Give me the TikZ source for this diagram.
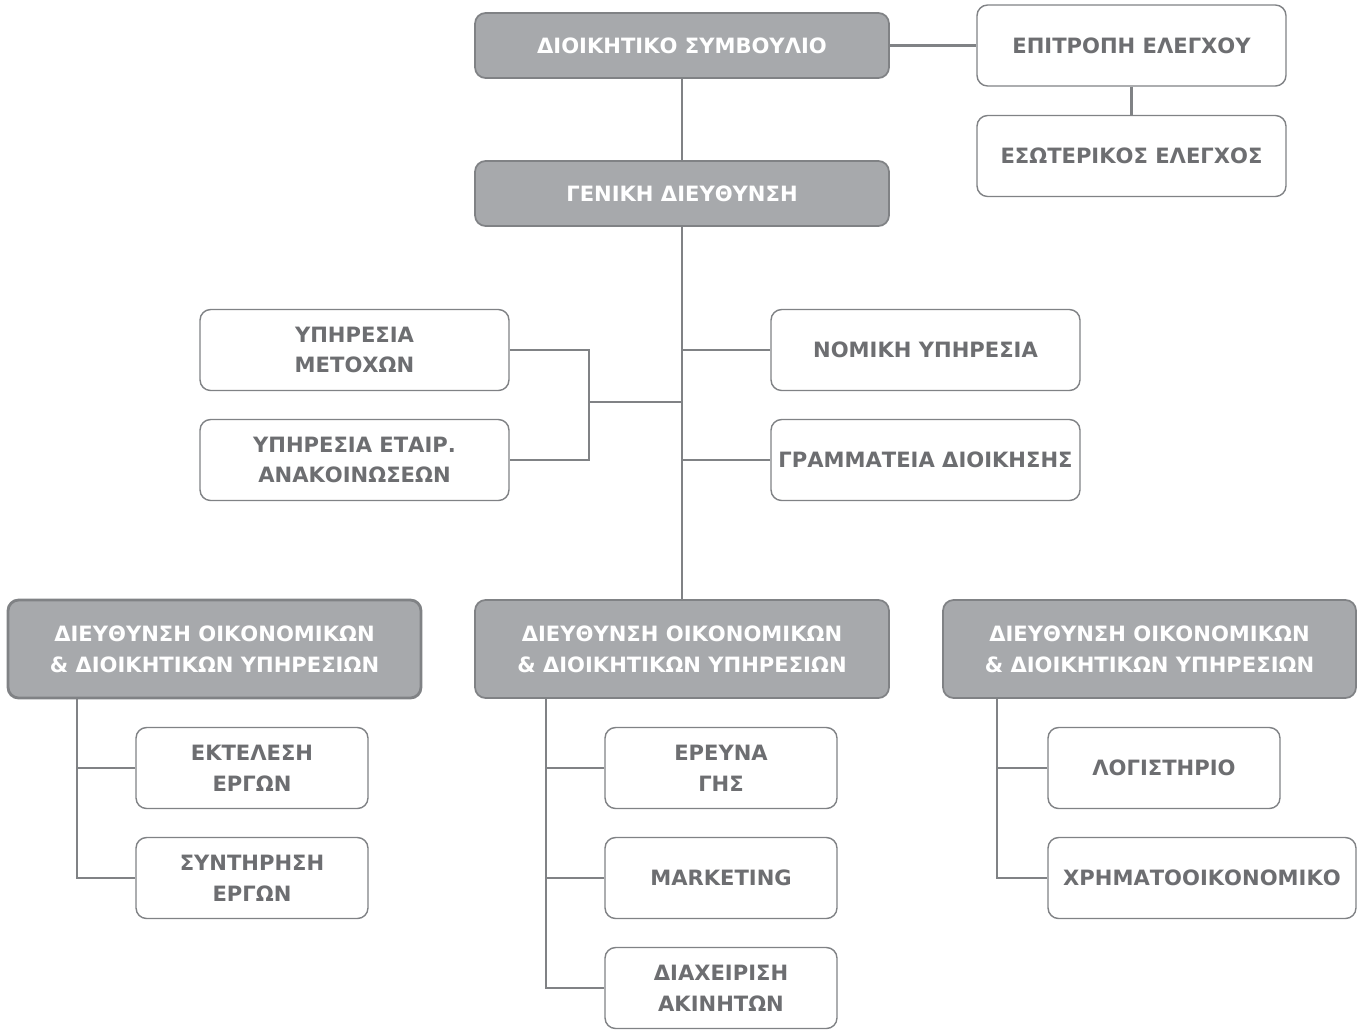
\documentclass[tikz,border=0pt]{standalone}
\usepackage{fontspec}
\setmainfont{DejaVu Sans}
\definecolor{boxgray}{HTML}{A7A9AC}
\definecolor{textgray}{HTML}{6D6E71}
\definecolor{linegray}{HTML}{808285}
\tikzset{
  headbox/.style={draw=linegray, line width=1pt, fill=boxgray, rounded corners=6pt,
    text=white, font=\bfseries\fontsize{12}{17.5}\selectfont, align=center, inner sep=0pt},
  unitbox/.style={draw=linegray, line width=0.8pt, fill=white, rounded corners=6pt,
    text=textgray, font=\bfseries\fontsize{12}{17.5}\selectfont, align=center, inner sep=0pt},
  link/.style={draw=linegray, line width=1.4pt}
}
\begin{document}
\begin{tikzpicture}[x=0.02cm, y=-0.02cm]
 \useasboundingbox (0,0) rectangle (1363,1029);
%
 \node[headbox, minimum width=8.28cm, minimum height=1.3cm] (board) at (682,45.5) {ΔΙΟΙΚΗΤΙΚΟ ΣΥΜΒΟΥΛΙΟ};
 \node[headbox, minimum width=8.28cm, minimum height=1.3cm] (gm) at (682,193.5) {ΓΕΝΙΚΗ ΔΙΕΥΘΥΝΣΗ};
 \node[unitbox, minimum width=6.18cm, minimum height=1.62cm] (audit) at (1131.5,45.5) {ΕΠΙΤΡΟΠΗ ΕΛΕΓΧΟΥ};
 \node[unitbox, minimum width=6.18cm, minimum height=1.62cm] (internal) at (1131.5,156) {ΕΣΩΤΕΡΙΚΟΣ ΕΛΕΓΧΟΣ};
%
 \node[unitbox, minimum width=6.18cm, minimum height=1.62cm] (shares) at (354.5,350) {ΥΠΗΡΕΣΙΑ\\ΜΕΤΟΧΩΝ};
 \node[unitbox, minimum width=6.18cm, minimum height=1.62cm] (announce) at (354.5,460) {ΥΠΗΡΕΣΙΑ ΕΤΑΙΡ.\\ΑΝΑΚΟΙΝΩΣΕΩΝ};
 \node[unitbox, minimum width=6.18cm, minimum height=1.62cm] (legal) at (925.5,350) {ΝΟΜΙΚΗ ΥΠΗΡΕΣΙΑ};
 \node[unitbox, minimum width=6.18cm, minimum height=1.62cm] (secretary) at (925.5,460) {ΓΡΑΜΜΑΤΕΙΑ ΔΙΟΙΚΗΣΗΣ};
%
 \node[headbox, line width=1.6pt, minimum width=8.26cm, minimum height=1.96cm] (deptA) at (214.5,649) {ΔΙΕΥΘΥΝΣΗ ΟΙΚΟΝΟΜΙΚΩΝ\\\& ΔΙΟΙΚΗΤΙΚΩΝ ΥΠΗΡΕΣΙΩΝ};
 \node[headbox, minimum width=8.28cm, minimum height=1.96cm] (deptB) at (682,649) {ΔΙΕΥΘΥΝΣΗ ΟΙΚΟΝΟΜΙΚΩΝ\\\& ΔΙΟΙΚΗΤΙΚΩΝ ΥΠΗΡΕΣΙΩΝ};
 \node[headbox, minimum width=8.26cm, minimum height=1.96cm] (deptC) at (1149.5,649) {ΔΙΕΥΘΥΝΣΗ ΟΙΚΟΝΟΜΙΚΩΝ\\\& ΔΙΟΙΚΗΤΙΚΩΝ ΥΠΗΡΕΣΙΩΝ};
%
 \node[unitbox, minimum width=4.64cm, minimum height=1.62cm] (exec) at (252,768) {ΕΚΤΕΛΕΣΗ\\ΕΡΓΩΝ};
 \node[unitbox, minimum width=4.64cm, minimum height=1.62cm] (maint) at (252,878) {ΣΥΝΤΗΡΗΣΗ\\ΕΡΓΩΝ};
 \node[unitbox, minimum width=4.64cm, minimum height=1.62cm] (survey) at (721,768) {ΕΡΕΥΝΑ\\ΓΗΣ};
 \node[unitbox, minimum width=4.64cm, minimum height=1.62cm] (marketing) at (721,878) {MARKETING};
 \node[unitbox, minimum width=4.64cm, minimum height=1.62cm] (estate) at (721,988) {ΔΙΑΧΕΙΡΙΣΗ\\ΑΚΙΝΗΤΩΝ};
 \node[unitbox, minimum width=4.64cm, minimum height=1.62cm] (account) at (1164,768) {ΛΟΓΙΣΤΗΡΙΟ};
 \node[unitbox, minimum width=6.16cm, minimum height=1.62cm] (finance) at (1202,878) {ΧΡΗΜΑΤΟΟΙΚΟΝΟΜΙΚΟ};
%
 \draw[link] (board) -- (audit);
 \draw[link] (audit) -- (internal);
 \draw[link] (board) -- (gm);
 \draw[link] (gm) -- (deptB);
 \draw[link] (legal.west) -- (legal.west -| gm.south);
 \draw[link] (secretary.west) -- (secretary.west -| gm.south);
 \draw[link] (shares.east) -| (589,402) |- (announce.east);
 \draw[link] (589,402) -- (682,402);
%
 \draw[link] (deptA.south -| 77,0) |- (maint.west);
 \draw[link] (exec.west) -- (exec.west -| 77,0);
 \draw[link] (deptB.south -| 546,0) |- (estate.west);
 \draw[link] (survey.west) -- (survey.west -| 546,0);
 \draw[link] (marketing.west) -- (marketing.west -| 546,0);
 \draw[link] (deptC.south -| 997,0) |- (finance.west);
 \draw[link] (account.west) -- (account.west -| 997,0);
\end{tikzpicture}
\end{document}
